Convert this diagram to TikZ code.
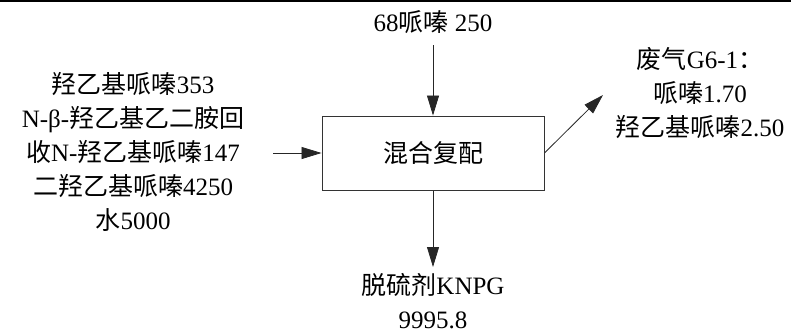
\documentclass[tikz,border=0pt]{standalone}
\usepackage{fontspec}
\setmainfont{Liberation Serif}
\newfontfamily\cjk{Noto Sans CJK SC}
\usetikzlibrary{arrows.meta}
\pgfdeclarelayer{edgelayer}
\pgfdeclarelayer{nodelayer}
\pgfsetlayers{edgelayer,nodelayer,main}
\tikzstyle{label}=[align=center,inner sep=0pt,font=\fontsize{25}{34}\selectfont]
\tikzstyle{process}=[rectangle,draw=black!80,line width=0.9pt,fill=white,minimum width=222pt,minimum height=74pt,font=\fontsize{25}{34}\selectfont]
\tikzstyle{flow}=[-{Triangle[length=20pt,width=12pt]},draw=black!85,line width=0.8pt]

\begin{document}
\begin{tikzpicture}[x=1pt,y=-1pt]
	\useasboundingbox (0,0) rectangle (791,333);
	\draw [line width=2.5pt] (0,1) -- (791,1);
	\begin{pgfonlayer}{nodelayer}
		\node [style=process] (0) at (433, 153) {\cjk 混合复配};
		\node [style=label] (1) at (433, 22) {68{\cjk 哌嗪} 250};
		\node [style=label] (2) at (133, 152) {{\cjk 羟乙基哌嗪}353\\N-β-{\cjk 羟乙基乙二胺回}\\{\cjk 收}N-{\cjk 羟乙基哌嗪}147\\{\cjk 二羟乙基哌嗪}4250\\{\cjk 水}5000};
		\node [style=label] (3) at (700, 93) {{\cjk 废气}G6-1{\cjk ：}\\{\cjk 哌嗪}1.70\\{\cjk 羟乙基哌嗪}2.50};
		\node [style=label] (4) at (433, 301) {{\cjk 脱硫剂}KNPG\\9995.8};
		\coordinate (5) at (433, 45);
		\coordinate (6) at (273, 153);
		\coordinate (7) at (603, 95);
		\coordinate (8) at (433, 267);
	\end{pgfonlayer}
	\begin{pgfonlayer}{edgelayer}
		\draw [style=flow] (5) to (0.north);
		\draw [style=flow] (6) to (0.west);
		\draw [style=flow] (0.east) to (7);
		\draw [style=flow] (0.south) to (8);
	\end{pgfonlayer}
\end{tikzpicture}
\end{document}
